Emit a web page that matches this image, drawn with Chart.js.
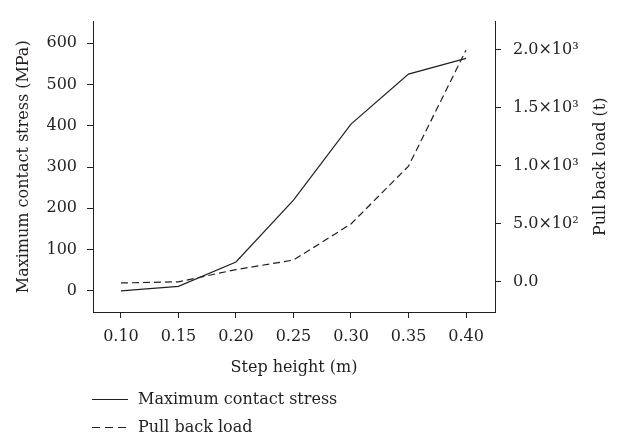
<!DOCTYPE html>
<html lang="en">
<head>
    <meta charset="UTF-8">
    <title>Step height vs contact stress and pull back load</title>
    <script src="https://cdn.jsdelivr.net/npm/chart.js"></script>
    <style>
        html, body { margin: 0; padding: 0; background: #fff; }
        #wrap { width: 621px; height: 436px; }
    </style>
</head>
<body>
<div id="wrap"><canvas id="chart" width="621" height="436"></canvas></div>

<script>
    const stepHeight = [0.10, 0.15, 0.20, 0.25, 0.30, 0.35, 0.40];
    const contactStress = [0, 11, 70, 220, 404, 525, 563];
    const pullBackLoad = [-10, 0, 105, 187, 498, 996, 1995];

    const heightTicks = [0.10, 0.15, 0.20, 0.25, 0.30, 0.35, 0.40];
    const stressTicks = [0, 100, 200, 300, 400, 500, 600];
    const loadTicks = [0, 500, 1000, 1500, 2000];

    const ink = "#231f20";
    const font = { family: "DejaVu Serif", size: 16 };
    const rightTitle = "Pull back load (t)";

    function sci(v) {
        if (v === 0) return "0.0";
        const sup = { 2: "²", 3: "³", 4: "⁴" };
        const e = Math.floor(Math.log10(v));
        return (v / Math.pow(10, e)).toFixed(1) + "×10" + sup[e];
    }

    // right axis title reads bottom-to-top like the left one, and the
    // legend sits below the x axis title, one row per series
    const extras = {
        id: "extras",
        afterDraw(chart) {
            const ctx = chart.ctx;
            const area = chart.chartArea;
            ctx.save();
            ctx.fillStyle = ink;
            ctx.font = "16px 'DejaVu Serif'";
            ctx.textBaseline = "middle";
            ctx.textAlign = "center";
            ctx.translate(601, (area.top + area.bottom) / 2);
            ctx.rotate(-Math.PI / 2);
            ctx.fillText(rightTitle, 0, 0);
            ctx.restore();

            const rows = [399.5, 427.5];
            ctx.save();
            chart.data.datasets.forEach((ds, i) => {
                const y = rows[i];
                ctx.strokeStyle = ink;
                ctx.lineWidth = 1.2;
                ctx.setLineDash(ds.borderDash.length ? [8, 5] : []);
                ctx.beginPath();
                ctx.moveTo(92, y);
                ctx.lineTo(128, y);
                ctx.stroke();
                ctx.setLineDash([]);
                ctx.fillStyle = ink;
                ctx.font = "16px 'DejaVu Serif'";
                ctx.textBaseline = "middle";
                ctx.textAlign = "left";
                ctx.fillText(ds.label, 138, y);
            });
            ctx.restore();
        }
    };

    new Chart(document.getElementById("chart"), {
        type: "line",
        data: {
            datasets: [{
                label: "Maximum contact stress",
                data: stepHeight.map((x, i) => ({ x, y: contactStress[i] })),
                yAxisID: "y",
                borderColor: ink,
                borderWidth: 1.2,
                borderDash: [],
                pointRadius: 0,
                tension: 0
            }, {
                label: "Pull back load",
                data: stepHeight.map((x, i) => ({ x, y: pullBackLoad[i] })),
                yAxisID: "y1",
                borderColor: ink,
                borderWidth: 1.2,
                borderDash: [7, 4],
                pointRadius: 0,
                tension: 0
            }]
        },
        options: {
            responsive: false,
            animation: false,
            layout: { padding: { top: 10, left: 0, right: 0, bottom: 52 } },
            plugins: {
                legend: { display: false },
                tooltip: { enabled: false }
            },
            scales: {
                x: {
                    type: "linear",
                    min: 0.0757,
                    max: 0.4252,
                    afterBuildTicks: s => { s.ticks = heightTicks.map(value => ({ value })); },
                    afterFit: s => { s.height = 72; },
                    grid: { drawOnChartArea: false, drawTicks: true, tickLength: 6, color: ink },
                    border: { color: ink, width: 1 },
                    ticks: { color: ink, font, padding: 9, callback: v => v.toFixed(2), maxRotation: 0 },
                    title: { display: true, text: "Step height (m)", color: ink, font, padding: { top: 0, bottom: 7 } }
                },
                y: {
                    position: "left",
                    min: -51,
                    max: 652,
                    afterBuildTicks: s => { s.ticks = stressTicks.map(value => ({ value })); },
                    afterFit: s => { s.width = 93; },
                    grid: { drawOnChartArea: false, drawTicks: true, tickLength: 6, color: ink },
                    border: { color: ink, width: 1 },
                    ticks: { color: ink, font, padding: 10 },
                    title: { display: true, text: "Maximum contact stress (MPa)", color: ink, font, padding: { top: 14, bottom: 0 } }
                },
                y1: {
                    position: "right",
                    min: -260,
                    max: 2240,
                    afterBuildTicks: s => { s.ticks = loadTicks.map(value => ({ value })); },
                    afterFit: s => { s.width = 126; },
                    grid: { drawOnChartArea: false, drawTicks: true, tickLength: 6, color: ink },
                    border: { color: ink, width: 1 },
                    ticks: { color: ink, font, padding: 12, callback: v => sci(v) },
                    title: { display: false }
                }
            }
        },
        plugins: [extras]
    });
</script>
</body>
</html>
